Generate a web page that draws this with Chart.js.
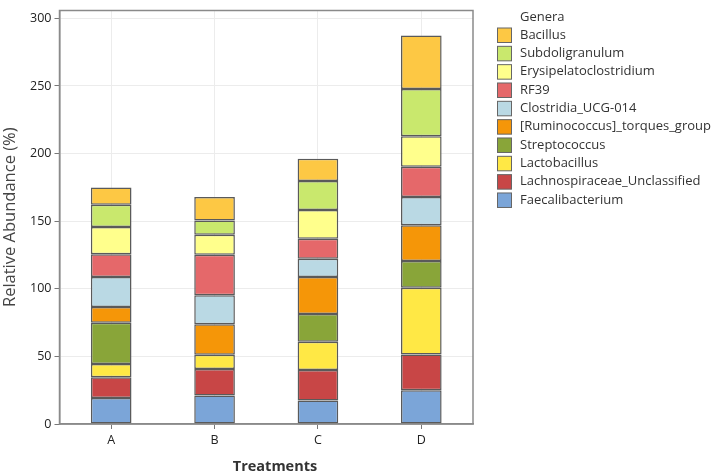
<!DOCTYPE html>
<html><head><meta charset="utf-8">
<script src="https://cdn.jsdelivr.net/npm/chart.js@4/dist/chart.umd.min.js"></script>
<style>html,body{margin:0;padding:0;background:#fff}#w{width:714px;height:476px}</style>
</head><body><div id="w"><canvas id="c" width="714" height="476"></canvas></div>
<script>
const categories = ['A','B','C','D'];
const genera = ['Faecalibacterium','Lachnospiraceae_Unclassified','Lactobacillus','Streptococcus','[Ruminococcus]_torques_group','Clostridia_UCG-014','RF39','Erysipelatoclostridium','Subdoligranulum','Bacillus'];
const Faecalibacterium = [19.3, 21.0, 17.4, 24.9];
const Lachnospiraceae_Unclassified = [15.3, 19.6, 22.5, 26.5];
const Lactobacillus = [9.8, 10.6, 21.0, 49.3];
const Streptococcus = [30.5, 0, 20.5, 19.8];
const Ruminococcus_torques_group = [11.6, 22.5, 27.3, 26.4];
const Clostridia_UCG_014 = [22.2, 21.5, 13.5, 21.0];
const RF39 = [16.9, 29.9, 14.8, 22.4];
const Erysipelatoclostridium = [20.1, 14.8, 21.2, 22.5];
const Subdoligranulum = [16.4, 10.6, 21.5, 35.0];
const Bacillus = [12.8, 17.4, 16.4, 39.6];
const yTicks = [0, 50, 100, 150, 200, 250, 300];

const seriesValues = [Faecalibacterium, Lachnospiraceae_Unclassified, Lactobacillus, Streptococcus, Ruminococcus_torques_group, Clostridia_UCG_014, RF39, Erysipelatoclostridium, Subdoligranulum, Bacillus];
const colors = ['#7BA5D8','#C84646','#FFE845','#89A539','#F59608','#BAD9E4','#E5686A','#FFFF8C','#C9E86D','#FDC844'];

const FONT = '"Open Sans", "Noto Sans", sans-serif';

const legendPlugin = {
  id: 'customLegend',
  afterDraw(chart) {
    const ctx = chart.ctx;
    ctx.save();
    ctx.font = '13px ' + FONT;
    ctx.fillStyle = '#333';
    ctx.textBaseline = 'middle';
    ctx.textAlign = 'left';
    ctx.fillText('Genera', 520, 17.5);
    const ds = chart.data.datasets.slice().reverse();
    ds.forEach((d, i) => {
      const y = 35 + i * 18.33;
      ctx.fillStyle = d.backgroundColor;
      ctx.fillRect(497.5, y - 7, 14, 14.5);
      ctx.strokeStyle = '#666';
      ctx.lineWidth = 1;
      ctx.strokeRect(497.5, y - 7, 14, 14.5);
      ctx.fillStyle = '#333';
      ctx.fillText(d.label, 520, y);
    });
    // panel border
    const a = chart.chartArea;
    ctx.strokeStyle = '#8a8a8a';
    ctx.lineWidth = 1.5;
    ctx.strokeRect(a.left, a.top, a.right - a.left, a.bottom - a.top);
    // x axis title
    ctx.font = 'bold 14.5px ' + FONT;
    ctx.fillStyle = '#333';
    ctx.textAlign = 'center';
    ctx.fillText('Treatments', 275, 467);
    ctx.restore();
  }
};

new Chart(document.getElementById('c'), {
  type: 'bar',
  data: {
    labels: categories,
    datasets: genera.map((g, i) => ({
      label: g,
      data: seriesValues[i],
      backgroundColor: colors[i],
      borderColor: '#5a5a5a',
      borderWidth: 1.5,
      borderSkipped: false,
      barPercentage: 0.393,
      categoryPercentage: 1.0
    }))
  },
  options: {
    responsive: false,
    animation: false,
    devicePixelRatio: 1,
    layout: { padding: { top: 2, right: 241, left: 0, bottom: 0 } },
    plugins: { legend: { display: false }, tooltip: { enabled: false } },
    scales: {
      x: {
        stacked: true,
        offset: true,
        grid: { offset: false, color: '#ececec', lineWidth: 1, tickColor: '#777', tickLength: 5, drawTicks: true },
        border: { display: true, color: '#8a8a8a', width: 1.5 },
        ticks: { color: '#222', font: { family: FONT, size: 12.5 }, padding: 4 },
        title: { display: false },
        afterFit(scale) { scale.height = 52; }
      },
      y: {
        stacked: true,
        min: 0,
        max: 305.8,
        afterBuildTicks(scale) { scale.ticks = yTicks.map(v => ({ value: v })); },
        grid: { color: '#ececec', lineWidth: 1, tickColor: '#777', tickLength: 5 },
        border: { display: true, color: '#8a8a8a', width: 1.5 },
        ticks: { color: '#222', font: { family: FONT, size: 12.5 }, padding: 3 },
        title: { display: true, text: 'Relative Abundance (%)', color: '#444', font: { family: FONT, size: 16.5 }, padding: { top: 0, bottom: 4 } },
        afterFit(scale) { scale.width = 59.5; }
      }
    }
  },
  plugins: [legendPlugin]
});
</script>
</body></html>
